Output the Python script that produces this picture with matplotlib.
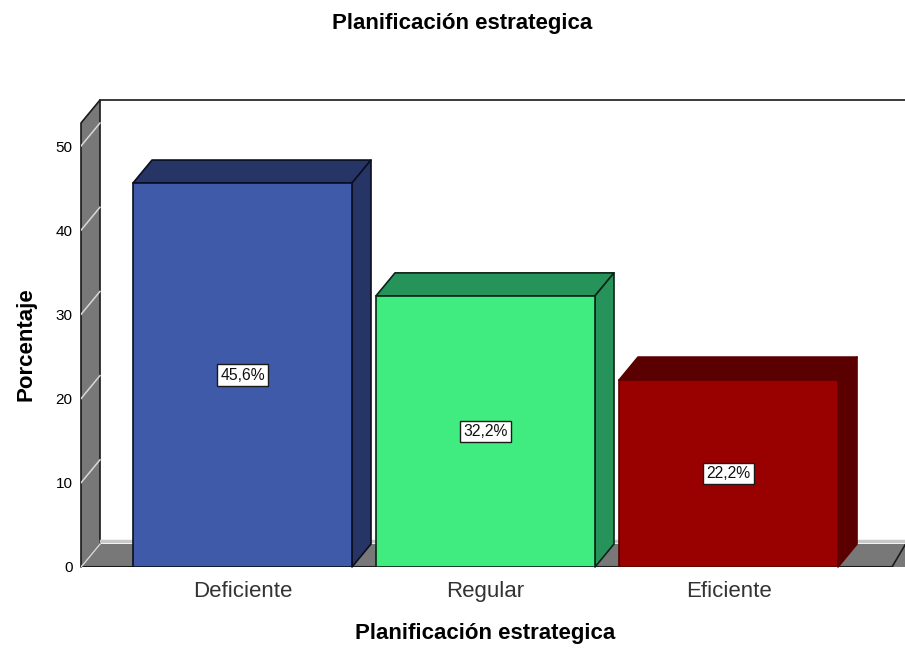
import matplotlib
matplotlib.use("Agg")
import matplotlib.pyplot as plt
from matplotlib.patches import Polygon

plt.rcParams["font.family"] = ["Liberation Sans", "DejaVu Sans"]

# Datos
categorias = ["Deficiente", "Regular", "Eficiente"]
porcentajes = [45.6, 32.2, 22.2]
etiquetas = ["45,6%", "32,2%", "22,2%"]
marcas_y = [0, 10, 20, 30, 40, 50]
titulo = "Planificación estrategica"

# Colores: cara frontal, caras laterales y borde de cada barra
color_frente = ["#3E5AA8", "#40EB80", "#990000"]
color_lado = ["#263566", "#26935A", "#5A0000"]
color_borde = ["#0A0F20", "#0A2515", "#5A0000"]
color_pared = "#787878"

W, H = 905, 651
fig = plt.figure(figsize=(W / 100, H / 100), dpi=100)
ax = fig.add_axes([81 / W, (H - 567) / H, (W - 81) / W, (567 - 100) / H])

# Escalas: 243 px entre categorias, 8.42 px por punto porcentual
PX_X, PX_Y = 243, 8.42
ax.set_xlim((81 - 242.5) / PX_X, (W - 242.5) / PX_X)
ax.set_ylim(0, 467 / PX_Y)
x0, x1 = ax.get_xlim()
y1 = ax.get_ylim()[1]

# Profundidad del efecto 3D
dx, dy = 19 / PX_X, 23 / PX_Y
ancho = 219 / PX_X
techo = y1 - dy


def cara(puntos, color, borde="#1A1A1A", lw=1.2, z=1):
    ax.add_patch(Polygon(puntos, closed=True, facecolor=color, edgecolor=borde,
                         linewidth=lw, zorder=z, joinstyle="round", clip_on=False))


# Pared izquierda y suelo
cara([(x0, 0), (x0 + dx, dy), (x0 + dx, y1), (x0, techo)], color_pared, z=1)
cara([(x0, 0), (x0 + dx, dy), (x1 + 0.2, dy), (x1 + 0.2 - dx, 0)], color_pared, borde="none", z=1)
ax.plot([x0, x1 - 13 / PX_X], [0, 0], color="#1A1A1A", lw=1.5, zorder=2)
ax.plot([x1 - 13 / PX_X, x1], [0, 22 / PX_Y], color="#1A1A1A", lw=1.2, zorder=2)
ax.plot([x0 + dx + 0.006, x1], [dy + 0.4, dy + 0.4], color="#C8C8C8", lw=2.5, zorder=2)
ax.plot([x0 + dx, x1], [y1, y1], color="#1A1A1A", lw=1.2, zorder=2, clip_on=False)

# Lineas de cuadricula sobre la pared
for m in marcas_y:
    ax.plot([x0, x0 + dx], [m, m + dy], color="#D8D8D8", lw=1.1, zorder=2)

# Barras con sus caras superior y lateral
for i, v in enumerate(porcentajes):
    izq, der = i - ancho / 2, i + ancho / 2
    cara([(izq, v), (izq + dx, v + dy), (der + dx, v + dy), (der, v)], color_lado[i], color_borde[i], z=3)
    cara([(der, 0), (der + dx, dy), (der + dx, v + dy), (der, v)], color_lado[i], color_borde[i], z=3)
    ax.bar(i, v, width=ancho, color=color_frente[i], edgecolor=color_borde[i], linewidth=1.2, zorder=4)
    ax.text(i, v / 2, etiquetas[i], ha="center", va="center", fontsize=11.3, color="#111111", zorder=5,
            bbox=dict(boxstyle="square,pad=0.2", facecolor="white", edgecolor="#1A1A1A", linewidth=1))

# Ejes
for lado in ax.spines.values():
    lado.set_visible(False)
ax.patch.set_visible(False)
ax.set_xticks(range(len(categorias)), categorias, fontsize=16, color="#333333")
ax.set_yticks(marcas_y)
ax.tick_params(axis="x", length=0, pad=10)
ax.tick_params(axis="y", length=0, pad=6, labelsize=11)
ax.set_xlabel(titulo, fontsize=16, fontweight="bold")
ax.xaxis.set_label_coords((485 - 81) / (W - 81), -(623 - 567) / 467)
ax.set_ylabel("Porcentaje", fontsize=16, fontweight="bold")
ax.yaxis.set_label_coords((36 - 81) / (W - 81), (567 - 344) / 467)

fig.text(462 / W, 1 - 24 / H, titulo, fontsize=16, fontweight="bold", ha="center", va="center")

fig.savefig("out.png", dpi=100)
